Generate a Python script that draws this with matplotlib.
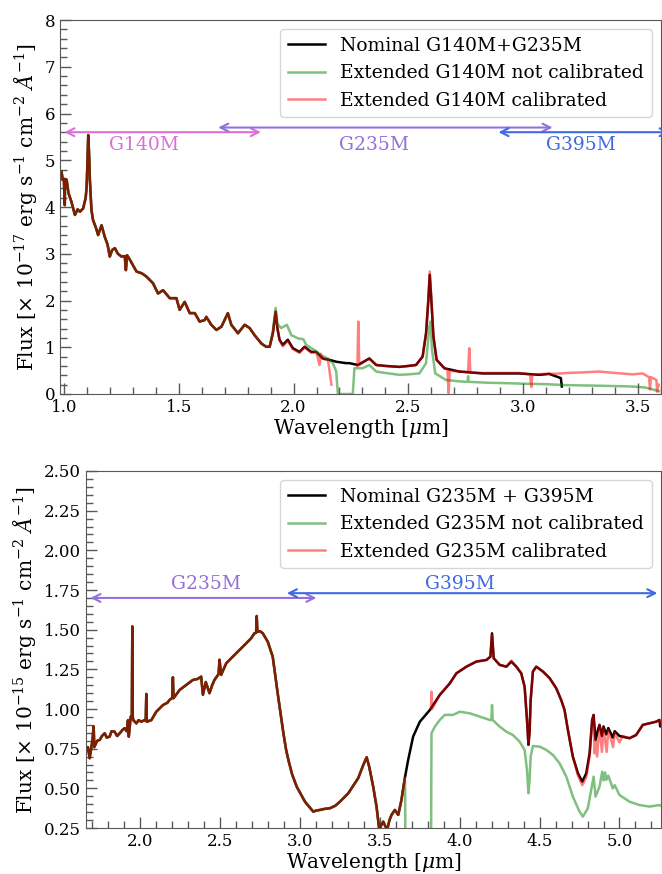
import numpy as np
import matplotlib
matplotlib.use("Agg")
import matplotlib.pyplot as plt

plt.rcParams["font.family"] = "serif"
plt.rcParams["font.serif"] = ["DejaVu Serif"]
plt.rcParams["mathtext.fontset"] = "dejavuserif"

nan = np.nan

# ---------------- top panel (G140M + G235M), flux in 1e-17 ----------------
top_wl_common = [0.99, 0.995, 1.000, 1.004, 1.005, 1.012, 1.020, 1.033, 1.048, 1.060, 1.070,
                 1.084, 1.095, 1.099, 1.103, 1.106, 1.110, 1.113, 1.120, 1.127, 1.140, 1.149,
                 1.164, 1.178, 1.190, 1.200, 1.210, 1.222, 1.235, 1.251, 1.265, 1.270, 1.275,
                 1.290, 1.316, 1.340, 1.360, 1.388, 1.410, 1.432, 1.461, 1.490, 1.504, 1.526,
                 1.548, 1.570, 1.591, 1.613, 1.620, 1.642, 1.664, 1.686, 1.714, 1.729, 1.758,
                 1.787, 1.809, 1.830, 1.860, 1.881, 1.896]
top_flux_common = [4.75, 4.58, 4.60, 4.04, 4.60, 4.58, 4.30, 4.11, 3.83, 3.95, 3.90,
                   3.97, 4.20, 4.43, 5.00, 5.54, 5.10, 4.60, 3.94, 3.72, 3.55, 3.40,
                   3.61, 3.36, 3.20, 2.94, 3.08, 3.12, 3.00, 2.94, 2.95, 2.65, 2.97,
                   2.85, 2.62, 2.58, 2.51, 2.37, 2.15, 2.22, 2.05, 2.05, 1.80, 1.97,
                   1.73, 1.73, 1.55, 1.58, 1.65, 1.48, 1.37, 1.44, 1.73, 1.48, 1.30,
                   1.48, 1.41, 1.26, 1.08, 1.01, 1.01]

top_wl_nom = [1.910, 1.922, 1.930, 1.939, 1.953, 1.975, 1.997, 2.026, 2.048, 2.077, 2.099,
              2.127, 2.157, 2.186, 2.229, 2.243, 2.280, 2.330, 2.360, 2.400, 2.461, 2.500,
              2.533, 2.562, 2.577, 2.587, 2.593, 2.600, 2.609, 2.623, 2.657, 2.722, 2.823,
              2.896, 2.983, 3.070, 3.113, 3.164, 3.168]
top_flux_nom = [1.30, 1.76, 1.40, 1.16, 1.05, 1.16, 0.98, 0.90, 1.01, 0.90, 0.90,
                0.76, 0.73, 0.69, 0.66, 0.66, 0.62, 0.76, 0.62, 0.60, 0.58, 0.60,
                0.62, 0.80, 1.30, 2.01, 2.55, 2.01, 1.23, 0.73, 0.55, 0.48, 0.44,
                0.44, 0.44, 0.41, 0.43, 0.34, 0.16]

top_wl_nc = [1.910, 1.922, 1.930, 1.946, 1.971, 1.990, 2.019, 2.043, 2.055, 2.091, 2.120,
             2.149, 2.171, 2.186, 2.193, 2.258, 2.265, 2.300, 2.330, 2.360, 2.400, 2.461,
             2.500, 2.548, 2.577, 2.591, 2.596, 2.603, 2.617, 2.664, 2.720, 2.758, 2.760,
             2.762, 2.850, 2.939, 3.000, 3.100, 3.186, 3.300, 3.400, 3.475, 3.530, 3.562,
             3.590]
top_flux_nc = [1.35, 1.84, 1.50, 1.41, 1.48, 1.26, 1.19, 1.17, 1.05, 0.94, 0.83,
               0.76, 0.66, 0.48, 0.00, 0.00, 0.55, 0.55, 0.62, 0.48, 0.45, 0.41,
               0.42, 0.44, 0.66, 1.44, 1.55, 0.94, 0.44, 0.30, 0.27, 0.26, 0.38,
               0.26, 0.24, 0.23, 0.22, 0.21, 0.19, 0.18, 0.17, 0.16, 0.14, 0.10,
               0.06]

top_wl_cal = [1.910, 1.922, 1.930, 1.939, 1.953, 1.975, 1.997, 2.026, 2.048, 2.077, 2.099,
              2.113, 2.118, 2.127, 2.150, 2.165, 2.200, 2.278, 2.282, 2.286, 2.330, 2.360,
              2.400, 2.461, 2.500, 2.533, 2.562, 2.577, 2.587, 2.593, 2.600, 2.609, 2.623,
              2.657, 2.670, 2.675, 2.680, 2.722, 2.760, 2.765, 2.770, 2.823, 2.900, 2.980,
              3.030, 3.035, 3.040, 3.100, 3.170, 3.190, 3.250, 3.330, 3.400, 3.475, 3.520,
              3.548, 3.552, 3.556, 3.580, 3.583, 3.590]
top_flux_cal = [1.30, 1.76, 1.40, 1.16, 1.02, 1.13, 0.96, 0.88, 1.00, 0.88, 0.90,
                0.62, 0.86, 0.76, 0.72, 0.20, nan, 0.60, 1.55, 0.62, 0.76, 0.62,
                0.60, 0.58, 0.60, 0.62, 0.80, 1.30, 2.05, 2.62, 2.05, 1.23, 0.73,
                0.55, 0.53, 0.02, 0.50, 0.48, 0.47, 0.98, 0.46, 0.45, 0.45, 0.45,
                0.42, 0.15, 0.42, 0.43, 0.44, 0.45, 0.46, 0.48, 0.45, 0.42, 0.44,
                0.36, 0.10, 0.36, 0.30, 0.05, 0.20]

# ---------------- bottom panel (G235M + G395M), flux in 1e-15 ----------------
bot_wl_common = [1.663, 1.672, 1.683, 1.700, 1.708, 1.712, 1.730, 1.746, 1.760, 1.777, 1.790,
                 1.808, 1.820, 1.839, 1.855, 1.871, 1.890, 1.902, 1.915, 1.923, 1.928, 1.940,
                 1.947, 1.950, 1.953, 1.956, 1.975, 1.990, 2.006, 2.027, 2.034, 2.0375, 2.041,
                 2.069, 2.100, 2.142, 2.170, 2.183, 2.200, 2.204, 2.208, 2.246, 2.288, 2.329,
                 2.360, 2.381, 2.392, 2.410, 2.433, 2.450, 2.464, 2.490, 2.496, 2.506, 2.538,
                 2.579, 2.621, 2.663, 2.694, 2.714, 2.725, 2.729, 2.733, 2.750, 2.767, 2.798,
                 2.829, 2.860, 2.875, 2.896, 2.913, 2.927, 2.950, 2.979, 3.031, 3.083, 3.100,
                 3.125, 3.150, 3.188, 3.220, 3.250, 3.302, 3.364, 3.396, 3.417, 3.433, 3.458,
                 3.479, 3.496, 3.510, 3.521, 3.535, 3.546, 3.560, 3.573, 3.594, 3.615, 3.635,
                 3.656]
bot_flux_common = [0.742, 0.76, 0.69, 0.80, 0.89, 0.76, 0.80, 0.805, 0.83, 0.847, 0.82,
                   0.826, 0.86, 0.857, 0.83, 0.847, 0.87, 0.879, 0.86, 0.93, 0.826, 0.952,
                   0.95, 1.52, 0.95, 0.93, 0.91, 0.93, 0.92, 0.93, 0.93, 1.095, 0.92,
                   0.93, 0.983, 1.025, 1.04, 1.057, 1.07, 1.20, 1.068, 1.12, 1.152, 1.183,
                   1.19, 1.204, 1.09, 1.17, 1.10, 1.15, 1.183, 1.22, 1.31, 1.215, 1.288,
                   1.33, 1.372, 1.414, 1.446, 1.477, 1.48, 1.586, 1.487, 1.49, 1.477, 1.424,
                   1.33, 1.10, 0.994, 0.847, 0.742, 0.679, 0.59, 0.511, 0.416, 0.353, 0.36,
                   0.364, 0.37, 0.375, 0.39, 0.416, 0.469, 0.564, 0.647, 0.696, 0.637, 0.511,
                   0.385, 0.24, 0.27, 0.29, 0.26, 0.24, 0.30, 0.333, 0.364, 0.333, 0.427,
                   0.564]

bot_wl_nom = [3.677, 3.708, 3.750, 3.813, 3.875, 3.938, 3.979, 4.042, 4.104, 4.167, 4.192,
              4.202, 4.2125, 4.250, 4.292, 4.323, 4.354, 4.385, 4.406, 4.421, 4.430, 4.437,
              4.444, 4.458, 4.479, 4.521, 4.563, 4.604, 4.635, 4.656, 4.677, 4.708, 4.740,
              4.767, 4.792, 4.813, 4.829, 4.838, 4.850, 4.865, 4.875, 4.890, 4.900, 4.917,
              4.930, 4.958, 4.970, 5.000, 5.063, 5.104, 5.146, 5.188, 5.229, 5.250, 5.255,
              5.260]
bot_flux_nom = [0.679, 0.826, 0.92, 0.994, 1.089, 1.162, 1.225, 1.267, 1.299, 1.309, 1.33,
                1.477, 1.32, 1.278, 1.267, 1.299, 1.267, 1.225, 1.141, 0.931, 0.774, 0.85,
                1.057, 1.236, 1.267, 1.236, 1.194, 1.131, 1.057, 0.994, 0.868, 0.70, 0.595,
                0.542, 0.595, 0.721, 0.931, 0.963, 0.805, 0.868, 0.90, 0.83, 0.89, 0.84,
                0.88, 0.82, 0.86, 0.83, 0.816, 0.836, 0.90, 0.91, 0.92, 0.931, 0.89,
                0.90]

bot_wl_nc = [3.658, 3.660, 3.820, 3.823, 3.844, 3.875, 3.906, 3.958, 4.000, 4.063, 4.125,
             4.188, 4.198, 4.202, 4.206, 4.250, 4.292, 4.333, 4.375, 4.406, 4.421, 4.430,
             4.437, 4.444, 4.458, 4.500, 4.542, 4.583, 4.625, 4.667, 4.708, 4.750, 4.771,
             4.802, 4.823, 4.838, 4.850, 4.875, 4.892, 4.900, 4.910, 4.917, 4.930, 4.958,
             4.970, 5.000, 5.063, 5.125, 5.188, 5.250, 5.260]
bot_flux_nc = [0.50, 0.00, 0.00, 0.847, 0.889, 0.931, 0.963, 0.963, 0.983, 0.973, 0.952,
               0.931, 0.93, 1.025, 0.931, 0.889, 0.857, 0.836, 0.794, 0.742, 0.616, 0.469,
               0.55, 0.70, 0.767, 0.763, 0.742, 0.711, 0.658, 0.574, 0.448, 0.353, 0.322,
               0.375, 0.49, 0.574, 0.448, 0.511, 0.605, 0.55, 0.60, 0.553, 0.58, 0.50,
               0.52, 0.458, 0.416, 0.395, 0.385, 0.395, 0.39]

bot_wl_cal = [3.700, 3.820, 3.823, 3.826, 3.875, 3.938, 3.979, 4.042, 4.104, 4.167, 4.192,
              4.202, 4.2125, 4.250, 4.292, 4.323, 4.354, 4.385, 4.406, 4.421, 4.430, 4.437,
              4.444, 4.458, 4.479, 4.521, 4.563, 4.604, 4.635, 4.656, 4.677, 4.708, 4.740,
              4.767, 4.792, 4.813, 4.829, 4.838, 4.845, 4.850, 4.860, 4.875, 4.890, 4.900,
              4.920, 4.930, 4.960, 4.970, 5.000, 5.020, 5.063, 5.104, 5.146, 5.188, 5.229,
              5.250, 5.260]
bot_flux_cal = [nan, 1.00, 1.109, 1.00, 1.089, 1.162, 1.225, 1.267, 1.299, 1.309, 1.33,
                1.47, 1.32, 1.278, 1.267, 1.305, 1.267, 1.225, 1.141, 0.931, 0.774, 0.85,
                1.057, 1.236, 1.267, 1.236, 1.194, 1.131, 1.057, 0.994, 0.868, 0.70, 0.58,
                0.52, 0.57, 0.70, 0.93, 0.96, 0.72, 0.80, 0.70, 0.90, 0.73, 0.88,
                0.73, 0.87, 0.76, 0.85, 0.79, 0.83, 0.816, 0.836, 0.90, 0.91, 0.92,
                0.931, 0.90]

colors = {"G140M": "orchid", "G235M": "mediumpurple", "G395M": "royalblue"}
LW = 1.8


def style_axis(ax):
    ax.tick_params(which="both", direction="in", top=False, right=False,
                   colors="0.35", labelcolor="black", labelsize=12)
    ax.tick_params(which="major", length=8, width=1)
    ax.tick_params(which="minor", length=5, width=1)
    for s in ax.spines.values():
        s.set_color("0.35")
    ax.set_xlabel(r"Wavelength [$\mu$m]", fontsize=14.5, labelpad=1)


def band_arrow(ax, x0, x1, y, c):
    ax.annotate("", xy=(x1, y), xytext=(x0, y), annotation_clip=False,
                arrowprops=dict(arrowstyle="<->", color=c, lw=1.5, mutation_scale=14))


fig = plt.figure(figsize=(6.62, 8.74), dpi=100)

# top panel
ax = fig.add_axes([0.0906, 0.5492, 0.9079, 0.4279])
ax.plot(top_wl_common + top_wl_nom, top_flux_common + top_flux_nom, color="k", lw=LW,
        label="Nominal G140M+G235M")
ax.plot(top_wl_common + top_wl_nc, top_flux_common + top_flux_nc, color="green", alpha=0.5,
        lw=LW, label="Extended G140M not calibrated")
ax.plot(top_wl_common + top_wl_cal, top_flux_common + top_flux_cal, color="red", alpha=0.5,
        lw=LW, label="Extended G140M calibrated")
band_arrow(ax, 0.99, 1.87, 5.6, colors["G140M"])
band_arrow(ax, 1.66, 3.14, 5.7, colors["G235M"])
band_arrow(ax, 2.88, 3.65, 5.6, colors["G395M"])
ax.text(1.35, 5.33, "G140M", color=colors["G140M"], fontsize=13.5, ha="center", va="center")
ax.text(2.35, 5.33, "G235M", color=colors["G235M"], fontsize=13.5, ha="center", va="center")
ax.text(3.25, 5.33, "G395M", color=colors["G395M"], fontsize=13.5, ha="center", va="center")
ax.set_xlim(0.983, 3.6)
ax.set_ylim(0, 8)
ax.set_xticks([1.0, 1.5, 2.0, 2.5, 3.0, 3.5])
ax.set_xticks(np.arange(1.0, 3.61, 0.1), minor=True)
ax.set_yticks(range(0, 9))
ax.set_yticks(np.arange(0, 8.01, 0.2), minor=True)
ax.set_ylabel(r"Flux [$\times$ 10$^{-17}$ erg s$^{-1}$ cm$^{-2}$ $\AA^{-1}$]", fontsize=14.5)
style_axis(ax)
ax.legend(loc="upper right", fontsize=13.5)

# bottom panel
ax = fig.add_axes([0.1299, 0.0526, 0.8686, 0.4085])
ax.plot(bot_wl_common + bot_wl_nom, bot_flux_common + bot_flux_nom, color="k", lw=LW,
        label="Nominal G235M + G395M")
ax.plot(bot_wl_common + bot_wl_nc, bot_flux_common + bot_flux_nc, color="green", alpha=0.5,
        lw=LW, label="Extended G235M not calibrated")
ax.plot(bot_wl_common + bot_wl_cal, bot_flux_common + bot_flux_cal, color="red", alpha=0.5,
        lw=LW, label="Extended G235M calibrated")
band_arrow(ax, 1.67, 3.12, 1.70, colors["G235M"])
band_arrow(ax, 2.90, 5.255, 1.73, colors["G395M"])
ax.text(2.41, 1.79, "G235M", color=colors["G235M"], fontsize=13.5, ha="center", va="center")
ax.text(4.0, 1.79, "G395M", color=colors["G395M"], fontsize=13.5, ha="center", va="center")
ax.set_xlim(1.66, 5.26)
ax.set_ylim(0.25, 2.5)
ax.set_xticks([2.0, 2.5, 3.0, 3.5, 4.0, 4.5, 5.0])
ax.set_xticks(np.arange(1.7, 5.26, 0.1), minor=True)
ax.set_yticks(np.arange(0.25, 2.51, 0.25))
ax.set_yticks(np.arange(0.25, 2.501, 0.05), minor=True)
ax.set_ylabel(r"Flux [$\times$ 10$^{-15}$ erg s$^{-1}$ cm$^{-2}$ $\AA^{-1}$]", fontsize=14.5)
style_axis(ax)
ax.legend(loc="upper right", fontsize=13.5)

fig.savefig("out.png", dpi=100)
